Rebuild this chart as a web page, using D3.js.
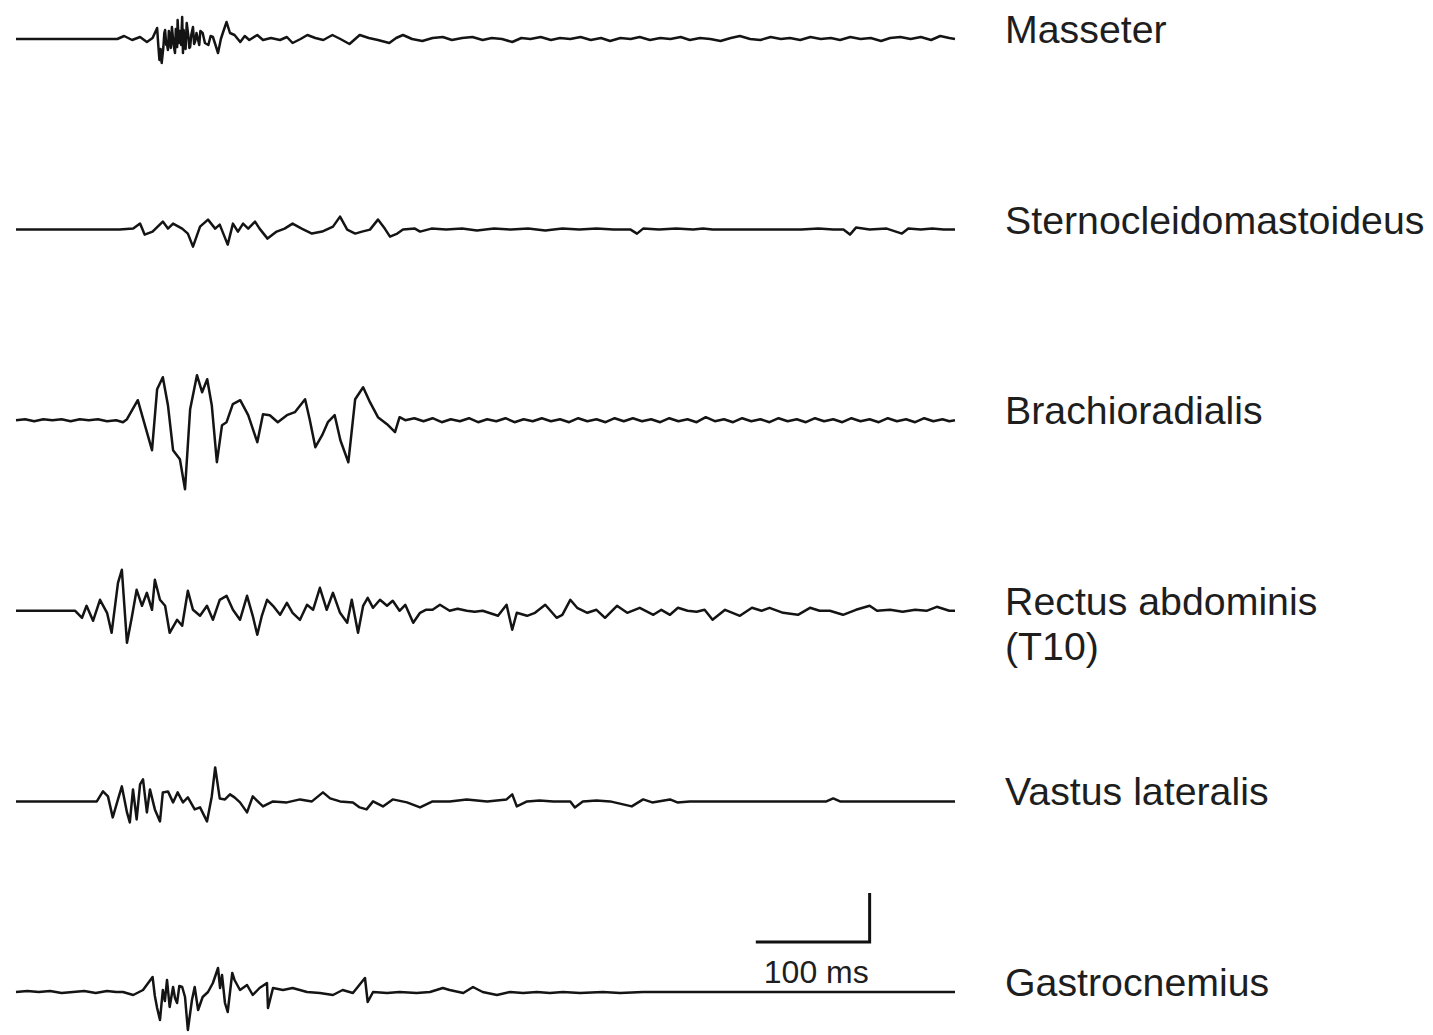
<!DOCTYPE html>
<html>
<head>
<meta charset="utf-8">
<script src="https://cdn.jsdelivr.net/npm/d3@7/dist/d3.min.js"></script>
<style>
  html, body { margin: 0; padding: 0; background: #fff; }
  svg { display: block; }
</style>
</head>
<body>
<div id="chart"></div>
<script>
// ---- DATA: EMG traces, [time ms, amplitude (arbitrary units, ~1 unit per px)] ----
const muscles = ["Masseter", "Sternocleidomastoideus", "Brachioradialis", "Rectus abdominis", "Vastus lateralis", "Gastrocnemius"];
const labelLines = [["Masseter"], ["Sternocleidomastoideus"], ["Brachioradialis"], ["Rectus abdominis", "(T10)"], ["Vastus lateralis"], ["Gastrocnemius"]];

const masseter = [[0,0],[89,0],[95,3],[102,-1],[109,2],[115,-3],[120,1],[124,11],[125,-6],[126,-21],[127,-10],[128,-24],[129.5,-8],[130.3,6],[131,9],[132,-6],[132.5,-4],[133.5,-11],[134.3,8],[135,3],[136,-9],[137,12],[138.5,-6],[139.7,-14],[140.4,10],[141,5],[141.6,-8],[142,19],[143,-4],[144,8],[145,-6],[146,22],[146.7,-14],[147.3,9],[148,-3],[149,-10],[150,16],[151.5,2],[152.3,-9],[153,-8],[154,4],[155.5,12],[156.5,-5],[157.5,-2],[158.6,6],[160,-1],[161,-6],[162,8],[164,6],[166,-4],[169,-6],[171,3],[173,2],[175,-5],[177.5,-14],[180,0],[182,7],[185,17],[188,6],[192,4],[197,-3],[201,3],[205,-1],[212,4],[217,-1],[224,1],[232,-1],[238,2],[243,-4],[250,0],[256,4],[263,1],[270,-1],[278,4],[285,0],[293,-5],[302,4],[310,1],[318,-1],[328,-4],[334,1],[340,4],[348,0],[357,-2],[366,1],[375,2],[383,-1],[392,1],[401,2],[410,-1],[418,1],[427,0],[436,-3],[444,1],[452,0],[461,2],[470,-1],[478,1],[487,0],[496,2],[505,-1],[514,1],[522,-2],[531,1],[540,0],[548,2],[557,-1],[566,1],[575,0],[584,2],[592,-1],[601,1],[610,0],[619,-2],[628,1],[636,3],[645,0],[654,-1],[663,2],[672,0],[680,1],[689,-1],[698,2],[707,0],[716,1],[724,-1],[733,2],[742,0],[751,1],[760,-2],[768,1],[777,2],[786,0],[795,2],[804,-1],[812,3],[820,1],[825,0]];

const sterno = [[0,0],[91,0],[103,1],[109,6],[113,-5],[120,-2],[129,8],[133.5,1],[138,6],[146,1],[151,-4],[155.5,-17],[161.7,3],[168.7,10],[175,1],[179,5],[186,-15],[190.6,6],[195,-2],[199.5,6],[204,1],[210,8],[214,1],[221,-9],[229,-2],[236,1],[243,6],[251,1],[260,-4],[269,-2],[278.5,3],[284.7,13],[291,0],[298,-4],[304,-2],[311,0],[318,10],[324,1],[328.6,-7],[335,-4],[340,0],[350.5,1],[355,-2],[365,1],[378,0],[392,1],[405,-1],[420,1],[435,0],[450,1],[465,-1],[480,1],[495,0],[510,1],[525,0],[540,0],[545.6,-4],[551,1],[565,0],[580,1],[595,0],[603.6,1],[612,0],[630,0],[650,0],[670,0],[690,0],[705,1],[718,0],[727,0],[732.7,-5],[738,2],[750,0],[765,1],[778.4,-4],[784,1],[795,0],[805,1],[815,0],[825,0]];

const brachio = [[0,0],[8,1],[16,-1],[24,1],[32,0],[40,1],[48,-1],[56,1],[64,0],[72,1],[80,-1],[88,0],[94,-2],[97.5,1],[107,20],[119.5,-30],[124,31],[129,43],[133.5,15],[138,-30],[144,-39],[148.5,-69],[153,11],[159,45],[163.5,28],[168,41],[172,15],[176.5,-42],[181,-5],[185,-2],[190.5,16],[197,20],[204,5],[212,-22],[217,6],[223,5],[230,-2],[238,5],[245,8],[254,21],[258,1],[263,-27],[269,-15],[274,-2],[280,5],[285,-20],[292,-42],[298,21],[305,33],[311,18],[318,3],[326,-4],[333,-12],[337,3],[342,0],[350,2],[358,-1],[366,2],[374,-2],[382,1],[390,-1],[398,2],[406,-2],[414,1],[422,-1],[430,2],[438,-2],[446,1],[454,-1],[462,2],[470,-1],[478,1],[486,-2],[494,2],[502,-1],[510,1],[518,-2],[526,2],[534,-1],[542,2],[550,-1],[558,1],[566,-2],[574,2],[582,-1],[590,1],[598,-2],[606,3],[614,-1],[622,1],[630,-2],[638,2],[646,-1],[654,1],[662,-2],[670,2],[678,-1],[686,1],[694,-2],[702,2],[710,-1],[718,1],[726,-2],[734,2],[742,-1],[750,1],[758,-2],[766,2],[774,-1],[782,1],[790,-2],[798,2],[806,-1],[814,1],[820,-1],[825,0]];

const rectus = [[0,0],[52,0],[58,-7],[62,5],[67.7,-10],[73.8,11],[80,-2],[84,-22],[89.6,28],[93,41],[97.5,-32],[102,-5],[106,21],[110.7,5],[115,18],[119.5,1],[122,31],[126.5,11],[131,5],[135,-22],[141.5,-9],[146,-15],[151,20],[155.5,1],[161.7,-5],[167.8,5],[173,-9],[179,11],[185,15],[190.6,1],[196.8,-9],[203,15],[208,-5],[212,-24],[216,-5],[220.6,11],[225.8,5],[232,-4],[238,8],[243,-2],[249.5,-9],[255.7,6],[261,1],[267,23],[273,1],[278.5,18],[284.7,-2],[291,-12],[295,11],[300.5,-22],[305,5],[309,13],[313.7,3],[319.8,11],[326,5],[331,10],[337,0],[342,6],[349,-12],[355,-2],[360,1],[366,1],[372.5,6],[381,0],[388,2],[396,0],[403,-1],[410,0],[423.5,-5],[431,6],[436,-19],[440,-2],[449,-5],[456,-2],[465,6],[475,-7],[480,-4],[487,11],[493,3],[502,-2],[510,1],[517.5,-7],[528,5],[537,-2],[548,3],[560,-4],[567,1],[574.6,-4],[581.6,3],[590,0],[598,-1],[605,1],[612,-9],[623,1],[636,-5],[646.6,3],[655,0],[662,3],[674,-2],[687,-4],[697.6,3],[706,0],[715,0],[726.6,-4],[738,1],[750,5],[756.5,0],[768,1],[779,-1],[790,1],[800,0],[809,4],[820,0],[825,0]];

const vastus = [[0,0],[71,0],[76.4,10],[80.8,5],[85,-16],[89.6,2],[93,15],[97.5,-11],[100,-21],[102.8,12],[106,-18],[109,17],[111.6,22],[115,-11],[117.7,12],[122,-8],[126.5,-20],[129,9],[133.5,10],[138,-1],[142,9],[146.7,-1],[151,4],[157,-8],[161.7,-6],[167.8,-20],[172,5],[175,34],[179,3],[183.6,2],[188,7],[192,4],[196.8,-1],[203,-11],[208,5],[217,-5],[225.8,0],[238,-1],[249.5,2],[260,0],[269.7,9],[276,3],[284.7,0],[296,-1],[302,-6],[308,-8],[313.7,0],[322.4,-5],[331,2],[343.5,-1],[355,-6],[366,0],[381,0],[396,2],[414,0],[431,2],[436,7],[440,-5],[449,0],[460,1],[472,0],[487,0],[491,-6],[498,0],[510,1],[522,0],[541,-5],[551,2],[559,-1],[574.6,2],[581,-1],[592,0],[650,0],[712,0],[718,3],[724,0],[825,0]];

const gastro = [[0,0],[10,1],[20,0],[30,1],[40,-1],[50,0],[60,1],[70,-1],[80,1],[88,0],[94,0],[103,-3],[111.6,2],[120,15],[122,-4],[124,-16],[126.5,-28],[129,2],[130.8,-9],[132.7,12],[135,-15],[138,5],[139.7,-6],[141.5,-11],[143.5,6],[146,5],[148.5,-5],[151,-38],[154.6,-8],[157,5],[160,-18],[164,-5],[168.7,0],[173,9],[177.5,24],[179.3,4],[181,17],[183.6,-11],[186,-20],[190,19],[192,12],[196.8,2],[203,7],[208,-3],[214,4],[220.5,9],[221.4,-16],[225.8,4],[234.6,2],[243,4],[255.7,0],[267,-1],[278.5,-3],[287,2],[296,-1],[306.6,14],[309,-10],[313.7,0],[326,-1],[337,0],[352,-1],[363.7,0],[375,4],[381,2],[393,-1],[401.5,5],[410,0],[422.6,-3],[434,0],[445.5,-1],[457.7,0],[469,-1],[480.6,0],[495.5,-1],[515.7,0],[530.7,-1],[551,0],[825,0]];

const traces = [masseter, sterno, brachio, rectus, vastus, gastro];

// time axis and scale bar
const timeDomain = [0, 825];        // ms
const scaleBarTime = [650, 750];    // ms (100 ms)
const scaleBarAmp = 49;             // amplitude units for vertical bar
const scaleBarLabel = "100 ms";

// ---- LAYOUT ----
const W = 1433, H = 1035;
const svg = d3.select("#chart").append("svg").attr("width", W).attr("height", H);
svg.append("rect").attr("width", W).attr("height", H).attr("fill", "#fff");

const x = d3.scaleLinear().domain(timeDomain).range([16, 955]);
const row = d3.scalePoint().domain(muscles).range([39, 992]);
const amp = d3.scaleLinear().domain([-100, 100]).range([100, -100]);

const line = d3.line().x(d => x(d[0])).y(d => amp(d[1]));

const g = svg.append("g");
muscles.forEach((m, i) => {
  const tg = g.append("g").attr("transform", `translate(0,${row(m)})`);
  tg.append("path")
    .datum(traces[i])
    .attr("d", line)
    .attr("fill", "none")
    .attr("stroke", "#141414")
    .attr("stroke-width", 2.5)
    .attr("stroke-linejoin", "round");
  const t = tg.append("text")
    .attr("x", 1005)
    .attr("y", 4)
    .attr("font-family", "Liberation Sans, Arial, sans-serif")
    .attr("font-size", 39.3)
    .attr("fill", "#1e1e1e");
  labelLines[i].forEach((ln, k) => {
    t.append("tspan").attr("x", 1005).attr("dy", k === 0 ? 0 : 45).text(ln);
  });
});

// scale bar
const barY = 942;
const sb = svg.append("g");
sb.append("path")
  .attr("d", `M${x(scaleBarTime[0])},${barY} H${x(scaleBarTime[1])} V${barY + amp(scaleBarAmp)}`)
  .attr("fill", "none")
  .attr("stroke", "#111")
  .attr("stroke-width", 3);
sb.append("text")
  .attr("x", x(scaleBarTime[0]) + 8)
  .attr("y", 983)
  .attr("font-family", "Liberation Sans, Arial, sans-serif")
  .attr("font-size", 32)
  .attr("fill", "#1e1e1e")
  .text(scaleBarLabel);
</script>
</body>
</html>
